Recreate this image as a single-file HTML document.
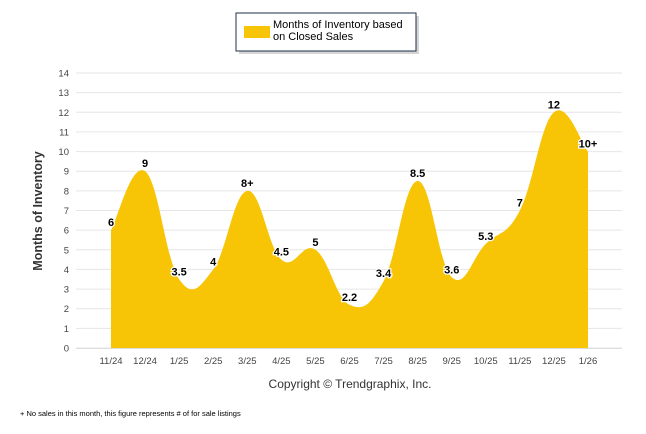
<!DOCTYPE html>
<html><head><meta charset="utf-8"><style>
body{margin:0;background:#fff;}
svg{display:block;font-family:"Liberation Sans",sans-serif;}
</style></head><body>
<svg id="chart" width="646" height="434">
<g>
<rect x="237" y="14" width="180" height="38" fill="#888" opacity="0.35" transform="translate(2,2)"/>
<rect x="236" y="13" width="180" height="38" fill="#fff" stroke="#1f2d4d" stroke-width="1"/>
<rect x="244" y="26" width="26" height="12" fill="#F7C506"/>
<text x="273" y="28" font-size="11" fill="#000">Months of Inventory based</text>
<text x="273" y="40" font-size="11" fill="#000">on Closed Sales</text>
</g>
<g id="grid"></g>
<g id="yticks"></g>
<g id="area"></g>
<g id="xticks"></g>
<g id="labels"></g>
<text x="0" y="0" transform="translate(42,211) rotate(-90)" text-anchor="middle" font-size="12.5" font-weight="bold" fill="#333">Months of Inventory</text>
<text x="350" y="388" text-anchor="middle" font-size="12" fill="#333">Copyright © Trendgraphix, Inc.</text>
<text x="20" y="416" font-size="7.5" fill="#000">+ No sales in this month, this figure represents # of for sale listings</text>
</svg>
<script>
const categories=["11/24","12/24","1/25","2/25","3/25","4/25","5/25","6/25","7/25","8/25","9/25","10/25","11/25","12/25","1/26"];
const values=[6,9,3.5,4,8,4.5,5,2.2,3.4,8.5,3.6,5.3,7,12,10];
const valueLabels=["6","9","3.5","4","8+","4.5","5","2.2","3.4","8.5","3.6","5.3","7","12","10+"];
const yTicks=[0,1,2,3,4,5,6,7,8,9,10,11,12,13,14];
const NS="http://www.w3.org/2000/svg";
const X0=76,X1=622,Y0=348,Y14=73;
const band=(588-111)/14;
function xs(i){return 111+band*i;}
function ys(v){return Y0-(Y0-Y14)*v/14;}
function mk(t,a,p){const e=document.createElementNS(NS,t);for(const k in a)e.setAttribute(k,a[k]);p.appendChild(e);return e;}
const grid=document.getElementById('grid'),yt=document.getElementById('yticks');
yTicks.forEach(v=>{
const l=mk('line',{x1:X0,x2:X1,y1:ys(v),y2:ys(v),stroke:'#e6e6e6','stroke-width':1},grid);


const t=mk('text',{x:69,y:ys(v)+3.5,'text-anchor':'end','font-size':9.5,fill:'#444'},yt);
t.textContent=v;


});
mk('line',{x1:X0,x2:X1,y1:Y0+0.5,y2:Y0+0.5,stroke:'#ddd'},grid);
const pts=values.map((v,i)=>[xs(i),ys(v)]);
const k=0.2;
let d=`M${pts[0][0]},${Y0} L${pts[0][0]},${pts[0][1]}`;
for(let i=1;i<pts.length;i++){
const p0=pts[Math.max(0,i-2)],p1=pts[i-1],p2=pts[i],p3=pts[Math.min(pts.length-1,i+1)];
const c1=[p1[0]+(p2[0]-p0[0])*k,p1[1]+(p2[1]-p0[1])*k];
const c2=[p2[0]-(p3[0]-p1[0])*k,p2[1]-(p3[1]-p1[1])*k];
d+=` C${c1[0]},${c1[1]} ${c2[0]},${c2[1]} ${p2[0]},${p2[1]}`;
}
d+=` L${pts[pts.length-1][0]},${Y0} Z`;
const ar=mk('path',{d:d,fill:'#F7C506'},document.getElementById('area'));


const xt=document.getElementById('xticks');
categories.forEach((c,i)=>{
const t=mk('text',{x:xs(i),y:364,'text-anchor':'middle','font-size':9.5,fill:'#444'},xt);
t.textContent=c;


});
const lb=document.getElementById('labels');
values.forEach((v,i)=>{
const t=mk('text',{x:xs(i),y:ys(v)-4,'text-anchor':'middle','font-size':11,'font-weight':'bold',fill:'#000',stroke:'#fff','stroke-width':2.5,'paint-order':'stroke'},lb);
t.textContent=valueLabels[i];


});
</script>
</body></html>
